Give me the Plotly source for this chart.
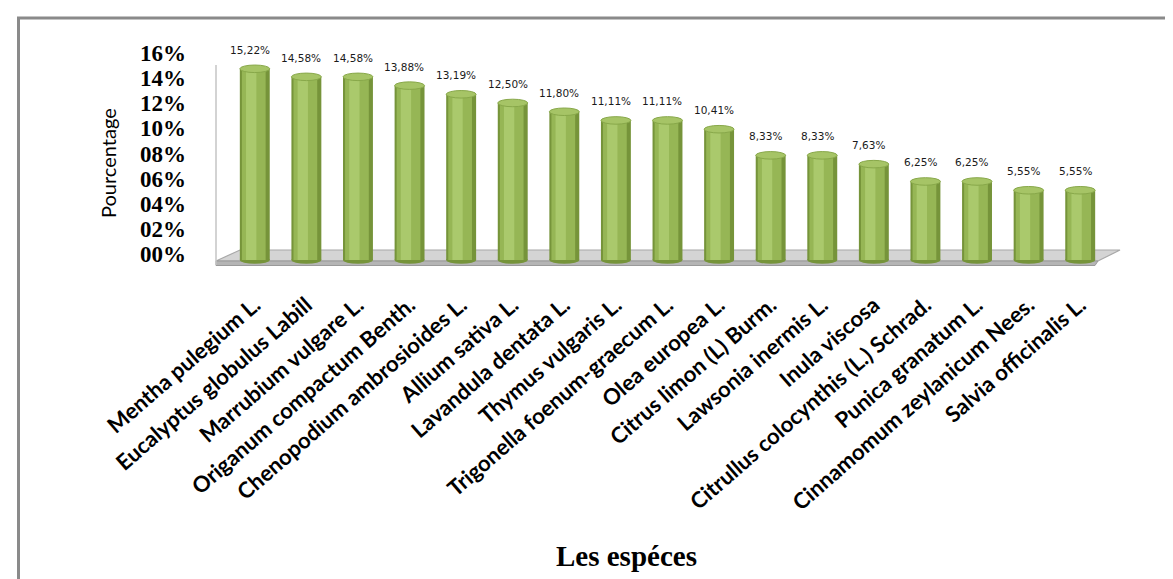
import plotly.graph_objects as go

species = ["Mentha pulegium L.", "Eucalyptus globulus Labill", "Marrubium vulgare L.",
           "Origanum compactum Benth.", "Chenopodium ambrosioides L.", "Allium sativa L.",
           "Lavandula dentata L.", "Thymus vulgaris L.", "Trigonella foenum-graecum L.",
           "Olea europea L.", "Citrus limon (L) Burm.", "Lawsonia inermis L.",
           "Inula viscosa", "Citrullus colocynthis (L.) Schrad.", "Punica granatum L.",
           "Cinnamomum zeylanicum Nees.", "Salvia officinalis L."]
values = [15.22, 14.58, 14.58, 13.88, 13.19, 12.50, 11.80, 11.11, 11.11, 10.41,
          8.33, 8.33, 7.63, 6.25, 6.25, 5.55, 5.55]
yticks = [0, 2, 4, 6, 8, 10, 12, 14, 16]
yticklabels = ["00%", "02%", "04%", "06%", "08%", "10%", "12%", "14%", "16%"]

W, H = 1173, 579
ml, mr, mt, mb = 221, 75, 51, 322
pw, ph = W - ml - mr, H - mt - mb

def px(x):
    return (x - ml) / pw

def py(y):
    return (H - mb - y) / ph

idx = list(range(len(species)))
labels = [f"{v:.2f}".replace(".", ",") + "%" for v in values]

fig = go.Figure()
bw = 0.58
fig.add_trace(go.Bar(x=idx, y=values, width=bw, offset=-bw / 2,
                     marker=dict(color="#76943a", line=dict(width=0)), hoverinfo="skip"))
fig.add_trace(go.Bar(x=idx, y=values, width=0.46, offset=-0.25,
                     marker=dict(color="#96b655", line=dict(width=0)), hoverinfo="skip"))
fig.add_trace(go.Bar(x=idx, y=values, width=0.2, offset=-0.17,
                     marker=dict(color="#aac96c", line=dict(width=0)), hoverinfo="skip"))

shapes = []
# outer border
shapes.append(dict(type="rect", xref="paper", yref="paper",
                   x0=px(10.5), x1=px(1190), y0=py(600), y1=py(10),
                   line=dict(color="#8a8a8a", width=3), fillcolor="rgba(0,0,0,0)", layer="below"))
# floor top surface
shapes.append(dict(type="path", xref="paper", yref="paper",
                   path=f"M {px(208)},{py(253)} L {px(232)},{py(242)} L {px(1112)},{py(242)} "
                        f"L {px(1090)},{py(253)} Z",
                   fillcolor="#d4d4d4", line=dict(color="#a8a8a8", width=1.2), layer="below"))
# floor front edge
shapes.append(dict(type="path", xref="paper", yref="paper",
                   path=f"M {px(208)},{py(253)} L {px(1090)},{py(253)} L {px(1087)},{py(257.5)} "
                        f"L {px(208)},{py(257.5)} Z",
                   fillcolor="#b5b5b5", line=dict(color="#9a9a9a", width=1), layer="below"))
# left wall line
shapes.append(dict(type="line", xref="paper", yref="paper",
                   x0=px(208), x1=px(208), y0=py(257), y1=py(57),
                   line=dict(color="#c4c4c4", width=1.5), layer="below"))
# cylinder bottoms and tops
for i, v in zip(idx, values):
    shapes.append(dict(type="circle", xref="x", yref="y",
                       x0=i - bw / 2, x1=i + bw / 2, y0=-0.3, y1=0.3,
                       fillcolor="#76943a", line=dict(width=0), layer="below"))
    shapes.append(dict(type="circle", xref="x", yref="y",
                       x0=i - bw / 2, x1=i + bw / 2, y0=v - 0.3, y1=v + 0.3,
                       fillcolor="#a6c466", line=dict(color="#88a84a", width=1)))

annotations = []
for i, v, t in zip(idx, values, labels):
    annotations.append(dict(x=i - 0.1, y=v, xref="x", yref="y", text=t, showarrow=False,
                            yshift=19, font=dict(family="DejaVu Sans", size=10.5, color="#1a1a1a")))
annotations.append(dict(x=px(618), y=py(548), xref="paper", yref="paper", text="<b>Les espéces</b>",
                        showarrow=False, xanchor="center", yanchor="middle",
                        font=dict(family="Liberation Serif", size=29, color="black")))
annotations.append(dict(x=px(100), y=py(155), xref="paper", yref="paper", text="Pourcentage",
                        showarrow=False, textangle=-90, xanchor="center", yanchor="middle",
                        font=dict(family="Lato", size=20, color="black")))

fig.update_layout(
    width=W, height=H,
    margin=dict(l=ml, r=mr, t=mt, b=mb),
    barmode="overlay", showlegend=False,
    plot_bgcolor="white", paper_bgcolor="white",
    shapes=shapes, annotations=annotations,
    xaxis=dict(range=[-0.5, len(species) - 0.5], tickvals=idx, ticktext=species,
               tickangle=-41, showgrid=False, zeroline=False, showline=False, ticks="",
               ticklabelstandoff=22, automargin=False,
               tickfont=dict(family="Lato", size=22, color="black", weight="bold")),
    yaxis=dict(range=[-0.4, 16], tickvals=yticks, ticktext=["<b>" + t + "</b>" for t in yticklabels],
               showgrid=False, zeroline=False, showline=False, ticks="",
               ticklabelstandoff=42, ticklabelshift=-6, automargin=False,
               tickfont=dict(family="Liberation Serif", size=23, color="black")),
)

fig.write_html("out.html")
